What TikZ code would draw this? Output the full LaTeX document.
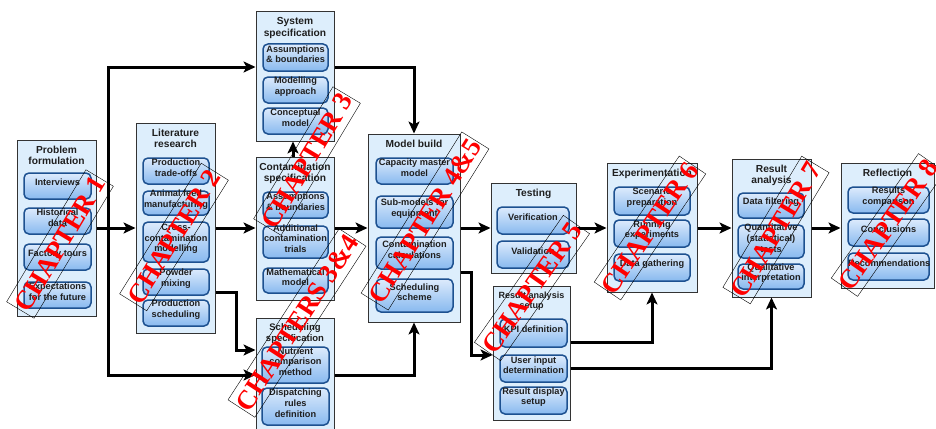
\documentclass[tikz,border=0pt]{standalone}
\usepackage{fontspec}
\setmainfont{Liberation Sans}
\newfontfamily\chapfont{Liberation Serif}
\usetikzlibrary{arrows.meta,fit,calc}

\definecolor{contfill}{HTML}{DDEEFC}
\definecolor{contline}{HTML}{333333}
\definecolor{itemtop}{HTML}{DDEBFC}
\definecolor{itembot}{HTML}{88B9EF}
\definecolor{itemline}{HTML}{1D5190}
\definecolor{chapred}{HTML}{FF0000}

\tikzset{
  cont/.style={draw=contline, line width=1pt, fill=contfill, inner sep=0pt},
  item/.style={draw=itemline, line width=1.5pt, rounded corners=5pt,
    top color=itemtop, bottom color=itembot, inner sep=0pt, align=center,
    font=\bfseries\fontsize{9.2}{10.6}\selectfont, text=black!88},
  ctitle/.style={font=\bfseries\fontsize{10.2}{11.6}\selectfont, align=center,
    inner sep=0pt, anchor=north, text=black!88},
  flow/.style={line width=3pt, -{Stealth[length=12pt,width=11pt,inset=3pt]}},
  chapframe/.style={draw=black, line width=0.4pt, minimum height=32pt, inner sep=0pt},
  chaptext/.style={text=chapred, font=\chapfont\bfseries\fontsize{27}{27}\selectfont, inner sep=0pt},
}

% stage container: name, top-left, bottom-right, title
\newcommand\stagebox[4]{%
  \node[cont, fit={#2 #3}] (#1) {};
  \node[ctitle] (#1t) at ($(#1.north)+(0,6)$) {#4};
}
% chapter overlay: name, centre, length, angle, text
\newcommand\chapmark[5]{%
  \node[chapframe, minimum width=#3pt, rotate=#4] (#1f) at #2 {};
  \node[chaptext, rotate=#4] (#1) at #2 {#5};
}

\begin{document}
\begin{tikzpicture}[x=1pt, y=-1pt]
\useasboundingbox (0,0) rectangle (936,428);

% ---------- Problem formulation ----------
\stagebox{pf}{(17,140)}{(96,316)}{Problem\\formulation}
\node[item, fit={(24,173) (91,199)}] (pf1) {Interviews};
\node[item, fit={(24,208) (91,234)}] (pf2) {Historical\\data};
\node[item, fit={(24,244) (91,270)}] (pf3) {Factory tours};
\node[item, fit={(24,282) (91,308)}] (pf4) {Expectations\\for the future};

% ---------- Literature research ----------
\stagebox{lr}{(136,123)}{(215,333)}{Literature\\research}
\node[item, fit={(143,158) (209,184)}] (lr1) {Production\\trade-offs};
\node[item, fit={(143,191) (209,215)}] (lr2) {Animal feed\\manufacturing};
\node[item, fit={(143,222) (209,262)}] (lr3) {Cross-\\contamination\\modelling};
\node[item, fit={(143,269) (209,295)}] (lr4) {Powder\\mixing};
\node[item, fit={(143,300) (209,326)}] (lr5) {Production\\scheduling};

% ---------- System specification ----------
\stagebox{ss}{(256,12)}{(334,141)}{System\\specification}
\node[item, fit={(263,44) (328,71)}] (ss1) {Assumptions\\\& boundaries};
\node[item, fit={(263,77) (328,103)}] (ss2) {Modelling\\approach};
\node[item, fit={(263,108) (328,134)}] (ss3) {Conceptual\\model};

% ---------- Contamination specification ----------
\stagebox{cs}{(256,157)}{(334,300)}{Contamination\\specification}
\node[item, fit={(263,192) (328,218)}] (cs1) {Assumptions\\\& boundaries};
\node[item, fit={(263,226) (328,258)}] (cs2) {Additional\\contamination\\trials};
\node[item, fit={(263,268) (328,293)}] (cs3) {Mathematical\\model};

% ---------- Scheduling specification ----------
\node[cont, fit={(256,318) (334,440)}] (sc) {};
\node[ctitle, font=\bfseries\fontsize{9.5}{11}\selectfont] (sct) at ($(sc.north)+(0,6)$) {Scheduling\\specification};
\node[item, fit={(262,347) (329,383)}] (sc1) {Nutrient\\comparison\\method};
\node[item, fit={(262,388) (329,425)}] (sc2) {Dispatching\\rules\\definition};

% ---------- Model build ----------
\stagebox{mb}{(368,134)}{(460,322)}{Model build}
\node[item, fit={(376,158) (453,184)}] (mb1) {Capacity master\\model};
\node[item, fit={(376,196) (453,228)}] (mb2) {Sub-models for\\equipment};
\node[item, fit={(376,237) (453,269)}] (mb3) {Contamination\\calculations};
\node[item, fit={(376,279) (453,312)}] (mb4) {Scheduling\\scheme};

% ---------- Testing ----------
\stagebox{te}{(491,183)}{(576,273)}{Testing}
\node[item, fit={(497,207) (569,234)}] (te1) {Verification};
\node[item, fit={(497,241) (569,268)}] (te2) {Validation};

% ---------- Result analysis setup ----------
\node[cont, fit={(493,286) (570,420)}] (ras) {};
\node[ctitle, font=\bfseries\fontsize{9}{10.5}\selectfont] (rast) at ($(ras.north)+(0,6)$) {Result analysis\\setup};
\node[item, fit={(500,319) (567,347)}] (ras1) {KPI definition};
\node[item, fit={(500,355) (567,382)}] (ras2) {User input\\determination};
\node[item, fit={(500,387) (567,414)}] (ras3) {Result display\\setup};

% ---------- Experimentation ----------
\stagebox{ex}{(607,163)}{(697,292)}{Experimentation}
\node[item, fit={(614,187) (690,215)}] (ex1) {Scenario\\preparation};
\node[item, fit={(614,220) (690,247)}] (ex2) {Running\\experiments};
\node[item, fit={(614,254) (690,281)}] (ex3) {Data gathering};

% ---------- Result analysis ----------
\stagebox{rn}{(732,159)}{(811,297)}{Result\\analysis}
\node[item, fit={(738,193) (804,218)}] (rn1) {Data filtering};
\node[item, fit={(738,225) (804,258)}] (rn2) {Quantitative\\(statistical)\\tests};
\node[item, fit={(738,264) (804,289)}] (rn3) {Qualitative\\interpretation};

% ---------- Reflection ----------
\stagebox{rf}{(841,163)}{(934,288)}{Reflection}
\node[item, fit={(848,187) (929,213)}] (rf1) {Results\\comparison};
\node[item, fit={(848,219) (929,246)}] (rf2) {Conclusions};
\node[item, fit={(848,253) (929,280)}] (rf3) {Recommendations};

% ---------- connectors ----------
\coordinate (jn) at (108,228);
\coordinate (lrbend) at (236,292);
\coordinate (mbbend) at (471,272);

\draw[flow] (pf.east) -- (lr.west |- pf.east);
\draw[flow] (jn) |- (ss.west |- 0,67);
\draw[flow] (jn) |- (sc.west |- 0,375);
\draw[flow] (lr.east) -- (cs.west |- lr.east);
\draw[flow] (lr.east |- 0,292) -- (lrbend) |- (sc.west |- 0,350);
\draw[flow] (cs.north -| 293,0) -- (ss.south -| 293,0);
\draw[flow] (cs.east |- lr.east) -- (mb.west |- lr.east);
\draw[flow] (ss.east |- 0,67) -| (mb.north);
\draw[flow] (sc.east |- 0,375) -| (mb.south);
\draw[flow] (mb.east |- lr.east) -- (te.west |- lr.east);
\draw[flow] (mb.east |- 0,272) -- (mbbend) |- (ras.west |- 0,355);
\draw[flow] (te.east |- lr.east) -- (ex.west |- lr.east);
\draw[flow] (ex.east |- lr.east) -- (rn.west |- lr.east);
\draw[flow] (rn.east |- lr.east) -- (rf.west |- lr.east);
\draw[flow] (ras.east |- 0,342) -| (ex.south);
\draw[flow] (ras.east |- 0,368) -| (rn.south);

% ---------- chapter marks ----------
\chapmark{ch1}{(60,244)}{154}{59}{CHAPTER 1}
\chapmark{ch2}{(174,237)}{154}{58}{CHAPTER 2}
\chapmark{ch3}{(307,161)}{154}{59}{CHAPTER 3}
\chapmark{ch34}{(297,323)}{204}{57}{CHAPTERS 3\&4}
\chapmark{ch45}{(425,221)}{190}{58}{CHAPTER 4\&5}
\chapmark{ch5}{(532,288)}{155}{55}{CHAPTER 5}
\chapmark{ch6}{(650,228)}{152}{56}{CHAPTER 6}
\chapmark{ch7}{(776,230)}{153}{59}{CHAPTER 7}
\chapmark{ch8}{(888,225)}{152}{55}{CHAPTER 8}

\end{tikzpicture}
\end{document}
